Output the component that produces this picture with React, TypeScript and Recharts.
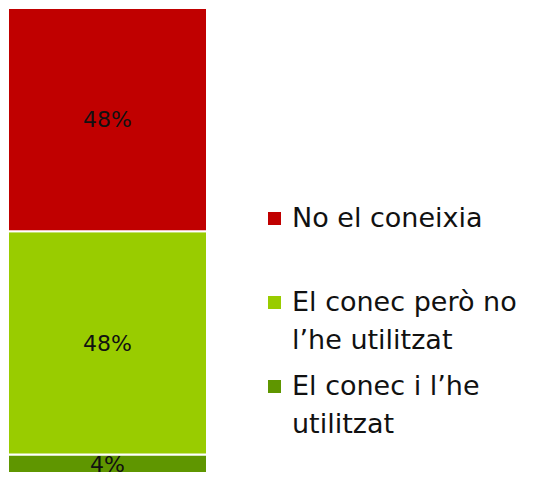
import React from 'react'
import { BarChart, Bar, XAxis, YAxis, LabelList } from 'recharts'

const categories = ['Total']
const usedValues = [4]
const knownValues = [48]
const unknownValues = [48]

const seriesNames = ['El conec i l’he utilitzat', 'El conec però no l’he utilitzat', 'No el coneixia']
// legend reads top-down, wrapped the way the original is
const legendLines = [
  ['No el coneixia'],
  ['El conec però no', 'l’he utilitzat'],
  ['El conec i l’he', 'utilitzat'],
]

const colors = {
  used: '#5f9600',
  known: '#99cc00',
  unknown: '#c00000',
  text: '#111111',
}

const data = categories.map((name, i) => ({
  name,
  used: usedValues[i],
  known: knownValues[i],
  unknown: unknownValues[i],
}))

const legendColors = [colors.unknown, colors.known, colors.used]

// drawn beside the chart so it doesn't eat into the plot height
const SideLegend = () => (
  <div
    style={{
      position: 'absolute',
      left: 260,
      top: 191,
      width: 269,
      fontFamily: 'DejaVu Sans',
      color: colors.text,
    }}
  >
    {legendLines.map((lines, i) => (
      <div key={i} style={{ display: 'flex', height: 84 }}>
        <div
          style={{
            width: 13,
            height: 13,
            marginTop: 13,
            background: legendColors[i],
            flexShrink: 0,
          }}
        />
        <div style={{ marginLeft: 11, fontSize: 27, lineHeight: '38px' }}>
          {lines.map((l, j) => (
            <div key={j} style={{ whiteSpace: 'nowrap' }}>{l}</div>
          ))}
        </div>
      </div>
    ))}
  </div>
)

const fmt = (v: any) => `${v}%`

export default function App() {
  return (
    <div style={{ position: 'relative', width: 529, height: 470 }}>
      <BarChart
        width={529}
        height={470}
        data={data}
        margin={{ top: 0, right: 330, left: 0, bottom: 5 }}
        barCategoryGap={0}
      >
        <XAxis dataKey="name" hide />
        <YAxis hide domain={[0, 100]} />
        <Bar dataKey="used" name={seriesNames[0]} stackId="a" fill={colors.used} stroke="#ffffff" strokeWidth={2} isAnimationActive={false}>
          <LabelList dataKey="used" position="center" formatter={fmt} fill={colors.text} fontSize={22} fontFamily="DejaVu Sans" />
        </Bar>
        <Bar dataKey="known" name={seriesNames[1]} stackId="a" fill={colors.known} stroke="#ffffff" strokeWidth={2} isAnimationActive={false}>
          <LabelList dataKey="known" position="center" formatter={fmt} fill={colors.text} fontSize={22} fontFamily="DejaVu Sans" />
        </Bar>
        <Bar dataKey="unknown" name={seriesNames[2]} stackId="a" fill={colors.unknown} stroke="#ffffff" strokeWidth={2} isAnimationActive={false}>
          <LabelList dataKey="unknown" position="center" formatter={fmt} fill={colors.text} fontSize={22} fontFamily="DejaVu Sans" />
        </Bar>
      </BarChart>
      <SideLegend />
    </div>
  )
}
